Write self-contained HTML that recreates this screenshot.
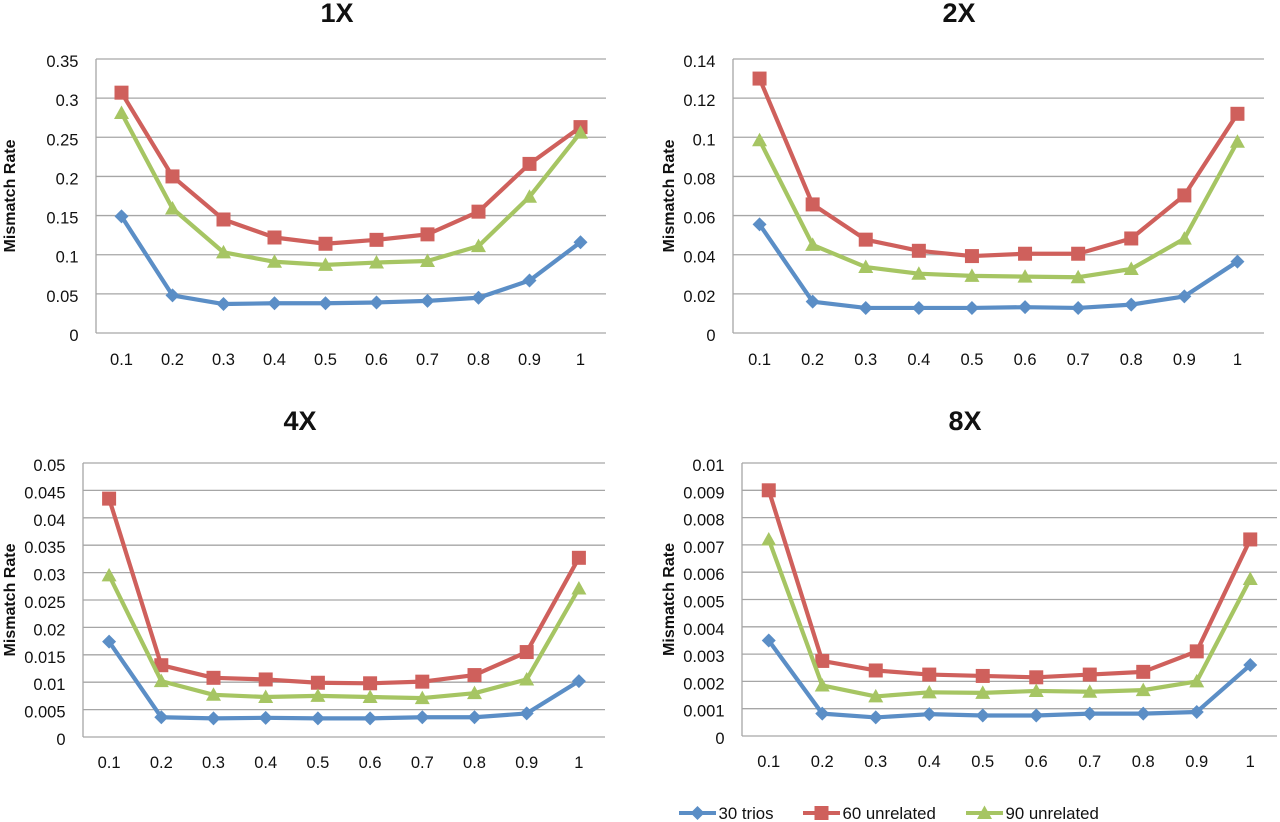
<!DOCTYPE html>
<html>
<head>
<meta charset="utf-8">
<style>
html,body{margin:0;padding:0;background:#fff;}
svg{display:block;}
text{font-family:"Liberation Sans",sans-serif;fill:#111;}
</style>
</head>
<body>
<svg id="figure" width="1280" height="822" viewBox="0 0 1280 822" xmlns="http://www.w3.org/2000/svg"></svg>
<script>
const categories = ['0.1','0.2','0.3','0.4','0.5','0.6','0.7','0.8','0.9','1'];
const seriesNames = ['30 trios','60 unrelated','90 unrelated'];

const ticks1X = ['0','0.05','0.1','0.15','0.2','0.25','0.3','0.35'];
const trios1X = [0.149,0.048,0.037,0.038,0.038,0.039,0.041,0.045,0.067,0.116];
const unrelated60_1X = [0.307,0.2,0.145,0.122,0.114,0.119,0.126,0.155,0.216,0.263];
const unrelated90_1X = [0.281,0.159,0.103,0.091,0.087,0.09,0.092,0.111,0.174,0.256];

const ticks2X = ['0','0.02','0.04','0.06','0.08','0.1','0.12','0.14'];
const trios2X = [0.0555,0.016,0.0128,0.0128,0.0128,0.0132,0.0128,0.0145,0.0187,0.0365];
const unrelated60_2X = [0.13,0.0657,0.0477,0.042,0.0393,0.0405,0.0405,0.0483,0.0703,0.112];
const unrelated90_2X = [0.0985,0.045,0.0337,0.0303,0.0292,0.0288,0.0285,0.0327,0.0482,0.0977];

const ticks4X = ['0','0.005','0.01','0.015','0.02','0.025','0.03','0.035','0.04','0.045','0.05'];
const trios4X = [0.0174,0.0036,0.0034,0.0035,0.0034,0.0034,0.0036,0.0036,0.0043,0.0102];
const unrelated60_4X = [0.0435,0.0131,0.0108,0.0105,0.0099,0.0098,0.0101,0.0113,0.0155,0.0327];
const unrelated90_4X = [0.0295,0.0102,0.0077,0.0073,0.0075,0.0073,0.0071,0.008,0.0105,0.0271];

const ticks8X = ['0','0.001','0.002','0.003','0.004','0.005','0.006','0.007','0.008','0.009','0.01'];
const trios8X = [0.0035,0.00082,0.00068,0.0008,0.00075,0.00075,0.00082,0.00082,0.00088,0.0026];
const unrelated60_8X = [0.009,0.00275,0.0024,0.00225,0.0022,0.00215,0.00225,0.00235,0.0031,0.0072];
const unrelated90_8X = [0.0072,0.00185,0.00145,0.0016,0.00158,0.00165,0.00162,0.00168,0.002,0.00575];

const NS = 'http://www.w3.org/2000/svg';
const root = document.getElementById('figure');
const MARK = ['#5b8ec6','#cf605c','#a6c563'];

function make(parent, tag, attrs, txt){
  const el = document.createElementNS(NS, tag);
  for (const k in attrs) el.setAttribute(k, attrs[k]);
  if (txt !== undefined) el.textContent = txt;
  parent.appendChild(el);
  return el;
}

function drawMarker(g, kind, x, y){
  let el;
  if (kind === 0) {
    el = make(g, 'polygon', {points:`${x},${y-7} ${x+7},${y} ${x},${y+7} ${x-7},${y}`, fill:MARK[0]});
    
  } else if (kind === 1) {
    el = make(g, 'rect', {x:x-7, y:y-7, width:14, height:14, fill:MARK[1]});
    
  } else {
    el = make(g, 'polygon', {points:`${x},${y-7.5} ${x+7.5},${y+6} ${x-7.5},${y+6}`, fill:MARK[2]});
    
  }
  
}

function drawChart(cfg){
  const g = make(root, 'g', {});
  
  

  const maxV = parseFloat(cfg.ticks[cfg.ticks.length - 1]);
  const step = (cfg.right - cfg.left) / categories.length;
  const xScale = i => cfg.left + step * (i + 0.5);
  const yScale = v => cfg.bottom - (v / maxV) * (cfg.bottom - cfg.top);

  const title = make(g, 'text', {x:cfg.titleX, y:cfg.titleY, 'text-anchor':'middle', 'font-size':27, 'font-weight':'bold'}, cfg.title);
  
  

  const yTitle = make(g, 'text', {transform:`translate(${cfg.yTitleX},${(cfg.top + cfg.bottom)/2}) rotate(-90)`, 'text-anchor':'middle', 'font-size':16, 'font-weight':'bold'}, 'Mismatch Rate');
  
  

  cfg.ticks.forEach(t => {
    const y = yScale(parseFloat(t));
    const line = make(g, 'line', {x1:cfg.left, x2:cfg.right, y1:y, y2:y, stroke:'#a6a6a6', 'stroke-width':1.3});
    
    
    const label = make(g, 'text', {x:cfg.left - 17.5, y:y + 8, 'text-anchor':'end', 'font-size':16.5}, t);
    
    
  });

  const axis = make(g, 'line', {x1:cfg.left, x2:cfg.left, y1:cfg.top, y2:cfg.bottom, stroke:'#a6a6a6', 'stroke-width':1.3});
  
  

  categories.forEach((c, i) => {
    const label = make(g, 'text', {x:xScale(i), y:cfg.xLabelY, 'text-anchor':'middle', 'font-size':16.5}, c);
    
    
  });

  cfg.series.forEach((vals, s) => {
    const sg = make(g, 'g', {});
    
    
    const pts = vals.map((v, i) => xScale(i) + ',' + yScale(v)).join(' ');
    const pl = make(sg, 'polyline', {points:pts, fill:'none', stroke:MARK[s], 'stroke-width':4.2, 'stroke-linejoin':'round'});
    
    
    vals.forEach((v, i) => drawMarker(sg, s, xScale(i), yScale(v)));
  });
}

drawChart({title:'1X', titleX:337, titleY:22, left:96, right:606, top:59, bottom:333, yTitleX:15, xLabelY:365,
  ticks:ticks1X, series:[trios1X, unrelated60_1X, unrelated90_1X]});
drawChart({title:'2X', titleX:959, titleY:22, left:733, right:1264, top:59, bottom:333, yTitleX:674, xLabelY:365,
  ticks:ticks2X, series:[trios2X, unrelated60_2X, unrelated90_2X]});
drawChart({title:'4X', titleX:300, titleY:430, left:83, right:605, top:463, bottom:737, yTitleX:15, xLabelY:768,
  ticks:ticks4X, series:[trios4X, unrelated60_4X, unrelated90_4X]});
drawChart({title:'8X', titleX:965, titleY:430, left:742, right:1277, top:463, bottom:736, yTitleX:674, xLabelY:767,
  ticks:ticks8X, series:[trios8X, unrelated60_8X, unrelated90_8X]});

const legend = make(root, 'g', {});


const legendLineX = [679, 803, 966];
seriesNames.forEach((name, s) => {
  const lx = legendLineX[s];
  const entry = make(legend, 'g', {});
  
  
  const ln = make(entry, 'line', {x1:lx, x2:lx + 37, y1:813, y2:813, stroke:MARK[s], 'stroke-width':4});
  
  
  drawMarker(entry, s, lx + 18.5, 813);
  const t = make(entry, 'text', {x:lx + 39.5, y:819, 'font-size':16.8}, name);
  
  
});
</script>
</body>
</html>
